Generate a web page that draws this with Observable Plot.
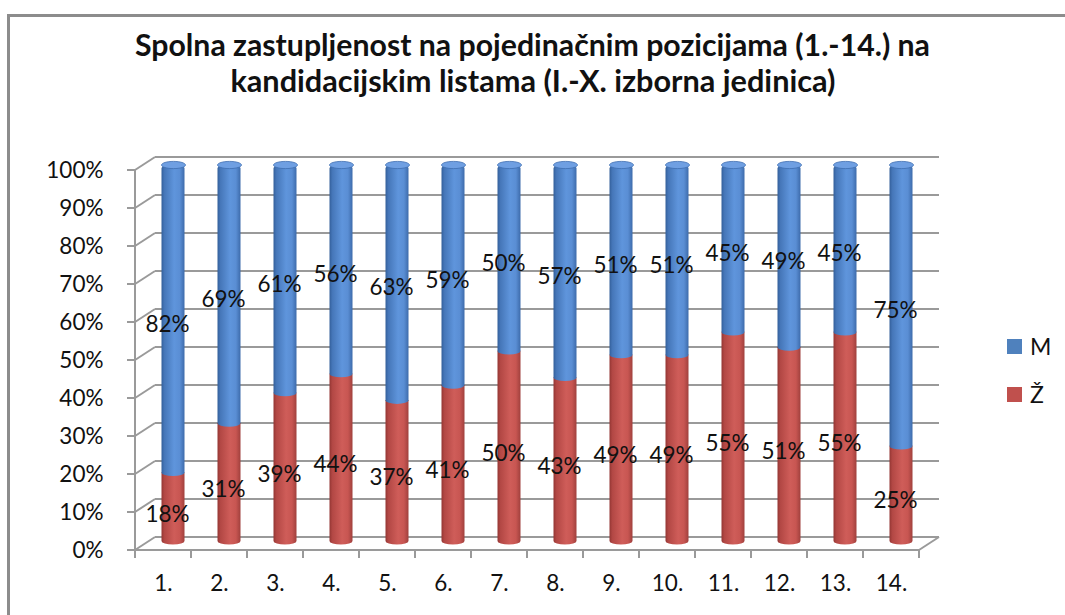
<!DOCTYPE html>
<html>
<head>
<meta charset="utf-8">
<script src="https://cdn.jsdelivr.net/npm/d3@7"></script>
<script src="https://cdn.jsdelivr.net/npm/@observablehq/plot@0.6"></script>
<style>
  html, body { margin: 0; padding: 0; background: #fff; }
  body { width: 1065px; height: 615px; overflow: hidden; position: relative; font-family: Lato, "Open Sans", sans-serif; }
  #frame { position: absolute; left: 7px; top: 14px; width: 1200px; height: 700px; border-left: 3px solid #8c8c8c; border-top: 3px solid #8c8c8c; box-sizing: border-box; pointer-events: none; }
  #title { height: 110px; box-sizing: border-box; padding-top: 26px; text-align: center; font-family: "Liberation Sans Narrow", Lato, sans-serif; font-weight: bold; font-size: 31px; color: #111; }
  #title .line { height: 36px; line-height: 36px; white-space: nowrap; }
  #title .line span { display: inline-block; transform-origin: 50% 50%; }
  #chart { display: block; }
  #legend { position: absolute; left: 1007px; top: 322px; font-family: Lato, sans-serif; font-size: 23px; color: #111; }
  #legend .item { height: 48px; display: flex; align-items: center; position: relative; }
  #legend .sw { width: 15px; height: 15px; margin-right: 8px; }
</style>
</head>
<body>
<div id="frame"></div>
<div id="title"></div>
<div id="chart"></div>
<div id="legend"></div>
<script>
// ---- data ----
const categories = ["1.", "2.", "3.", "4.", "5.", "6.", "7.", "8.", "9.", "10.", "11.", "12.", "13.", "14."];
const zeneValues = [18, 31, 39, 44, 37, 41, 50, 43, 49, 49, 55, 51, 55, 25];   // Ž
const muskarciValues = [82, 69, 61, 56, 63, 59, 50, 57, 51, 51, 45, 49, 45, 75]; // M
const seriesNames = ["M", "Ž"];
const seriesColors = ["#4F81BD", "#C0504D"];
const yTickValues = [0, 10, 20, 30, 40, 50, 60, 70, 80, 90, 100];
const titleLines = [
  "Spolna zastupljenost na pojedinačnim pozicijama (1.-14.) na",
  "kandidacijskim listama (I.-X. izborna jedinica)"
];

const data = categories.map((c, i) => ({cat: c, z: zeneValues[i], m: muskarciValues[i]}));

// ---- style constants ----
const DEPTH_X = 20, DEPTH_Y = -13;     // back wall offset
const BAR_DX = 10, BAR_DY = -5.5;      // bars sit mid-depth
const GRID = "#9a9a9a";
const LABEL_SIZE = 22.5;

// title
const titleDiv = d3.select("#title");
titleLines.forEach(t => titleDiv.append("div").attr("class", "line").append("span").text(t));

// 3D walls, grid, ticks
function walls(index, scales) {
  const x = scales.x, y = scales.y;
  const bw = x.bandwidth ? x.bandwidth() : 56.93;
  const x0 = x(categories[0]);
  const x1 = x(categories[categories.length - 1]) + bw;
  const g = d3.create("svg:g").attr("fill", "none").attr("stroke", GRID).attr("stroke-width", 2);
  for (const v of yTickValues) {
    const yy = y(v);
    g.append("line").attr("x1", x0 + DEPTH_X).attr("x2", x1 + DEPTH_X).attr("y1", yy + DEPTH_Y).attr("y2", yy + DEPTH_Y);
    g.append("line").attr("x1", x0).attr("x2", x0 + DEPTH_X).attr("y1", yy).attr("y2", yy + DEPTH_Y);
    g.append("line").attr("x1", x0 - 8).attr("x2", x0).attr("y1", yy).attr("y2", yy);
  }
  g.append("line").attr("x1", x0).attr("x2", x0).attr("y1", y(0)).attr("y2", y(100));
  g.append("line").attr("x1", x0).attr("x2", x1).attr("y1", y(0)).attr("y2", y(0));
  g.append("line").attr("x1", x1).attr("x2", x1 + DEPTH_X).attr("y1", y(0)).attr("y2", y(0) + DEPTH_Y);
  const bounds = categories.map(c => x(c)).concat([x1]);
  for (const b of bounds) {
    g.append("line").attr("x1", b).attr("x2", b).attr("y1", y(0)).attr("y2", y(0) + 8);
  }
  return g.node();
}

const ellipseCap = {
  draw(ctx) {
    const a = 12, b = 3.6, k = 0.5523;
    ctx.moveTo(-a, 0);
    ctx.bezierCurveTo(-a, -b * k, -a * k, -b, 0, -b);
    ctx.bezierCurveTo(a * k, -b, a, -b * k, a, 0);
    ctx.bezierCurveTo(a, b * k, a * k, b, 0, b);
    ctx.bezierCurveTo(-a * k, b, -a, b * k, -a, 0);
    ctx.closePath();
  }
};

const inset = 16.5;

const plot = Plot.plot({
  width: 1065,
  height: 505,
  marginTop: 60,
  marginBottom: 65,
  marginLeft: 128,
  marginRight: 140,
  style: {fontFamily: "Lato, 'Open Sans', sans-serif", fontSize: LABEL_SIZE + "px", color: "#111", background: "transparent"},
  x: {type: "band", domain: categories, padding: 0, tickSize: 0, tickPadding: 25, label: null},
  y: {domain: [0, 100], ticks: 10, tickFormat: d => d + "%", tickSize: 0, tickPadding: 25, label: null},
  marks: [
    walls,
    Plot.barY(data, {x: "cat", y1: 0, y2: "z", fill: "url(#gradRed)", insetLeft: inset, insetRight: inset, insetTop: -7, rx: 12, ry: 3.6, dx: BAR_DX, dy: BAR_DY}),
    Plot.barY(data, {x: "cat", y1: "z", y2: d => d.z + d.m, fill: "url(#gradBlue)", insetLeft: inset, insetRight: inset, rx: 12, ry: 3.6, dx: BAR_DX, dy: BAR_DY}),
    Plot.dot(data, {x: "cat", y: d => d.z + d.m, symbol: ellipseCap, fill: "#6f9fe2", stroke: "#3f6db0", strokeWidth: 0.8, dx: BAR_DX, dy: BAR_DY}),
    Plot.text(data, {x: "cat", y: d => d.z / 2, text: d => d.z + "%", dx: 4, dy: -2, fontSize: LABEL_SIZE, fill: "#111"}),
    Plot.text(data, {x: "cat", y: d => d.z + d.m / 2, text: d => d.m + "%", dx: 4, dy: -2, fontSize: LABEL_SIZE, fill: "#111"})
  ]
});

const defs = d3.select(plot).insert("defs", ":first-child");
function grad(id, stops) {
  const lg = defs.append("linearGradient").attr("id", id).attr("x1", 0).attr("x2", 1).attr("y1", 0).attr("y2", 0);
  stops.forEach(([o, c]) => lg.append("stop").attr("offset", o).attr("stop-color", c));
}
grad("gradBlue", [[0, "#335f9a"], [0.12, "#4576b8"], [0.55, "#5f95dc"], [0.8, "#5a8ed4"], [1, "#3d6bab"]]);
grad("gradRed", [[0, "#933633"], [0.12, "#b24744"], [0.55, "#cf5d59"], [0.8, "#c85652"], [1, "#a0403d"]]);

document.getElementById("chart").appendChild(plot);

const legend = d3.select("#legend");
seriesNames.forEach((n, i) => {
  const it = legend.append("div").attr("class", "item");
  it.append("div").attr("class", "sw").style("background", seriesColors[i]);
  it.append("span").text(n);
});

const targets = [795, 605];
document.querySelectorAll("#title .line span").forEach((s, i) => {
  const w = s.getBoundingClientRect().width;
  if (w > 0) s.style.transform = `scaleX(${targets[i] / w})`;
});
</script>
</body>
</html>
